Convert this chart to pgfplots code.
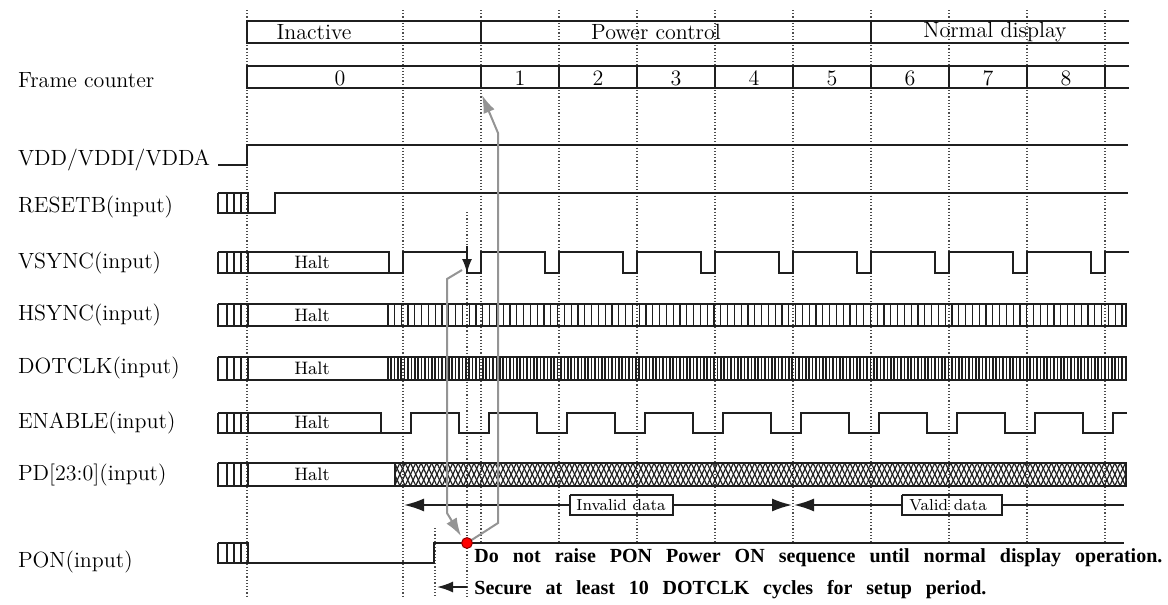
\documentclass[border=0pt]{standalone}
\usepackage{fontspec}
\newfontfamily\tnr{Liberation Serif}
\usepackage{pgfplots}
\pgfplotsset{compat=1.18}
\usetikzlibrary{arrows.meta,patterns.meta}

\definecolor{ln}{gray}{0.12}
\definecolor{ann}{gray}{0.58}
\newcommand\lbl{\fontsize{11}{13}\selectfont}
\newcommand\hlt{\fontsize{9}{11}\selectfont}
\newcommand\sml{\fontsize{8}{10}\selectfont}

\pgfplotsset{sig/.style={ln, line width=0.85pt}}

% hatched "don't care" box in front of a signal, #1 = high y, #2 = low y
\newcommand\hatch[2]{%
  \addplot[sig] coordinates {(218,#1)(248,#1)(248,#2)(218,#2)(218,#1)};
  \addplot[sig] coordinates {(227,#1)(227,#2)(nan,nan)(234,#1)(234,#2)(nan,nan)(241,#1)(241,#2)};}

\begin{document}
\begin{tikzpicture}
\begin{axis}[
    width=584pt, height=302.5pt, scale only axis,
    xmin=0, xmax=1168, ymin=0, ymax=605, y dir=reverse,
    hide axis, clip=false, no markers, unbounded coords=jump,
  ]
  % frame grid
  \addplot[densely dotted, line width=0.6pt, black!70] coordinates {
    (247,10)(247,598)(nan,nan)(403,10)(403,598)(nan,nan)
    (481,10)(481,543)(nan,nan)(559,10)(559,543)(nan,nan)
    (637,10)(637,543)(nan,nan)(715,10)(715,543)(nan,nan)
    (793,10)(793,543)(nan,nan)(871,10)(871,543)(nan,nan)
    (949,10)(949,543)(nan,nan)(1027,10)(1027,543)(nan,nan)
    (1105,10)(1105,543)(nan,nan)
    (467,212)(467,598)(nan,nan)(435,528)(435,598)};

  % state bar
  \addplot[sig, line width=1pt] coordinates {(1129,21)(247,21)(247,43)(1129,43)};
  \addplot[sig, line width=1pt] coordinates {(481,21)(481,43)(nan,nan)(871,21)(871,43)};
  \node[font=\lbl] at (axis cs:314,32) {Inactive};
  \node[font=\lbl] at (axis cs:656,32) {Power control};
  \node[font=\lbl] at (axis cs:995,32) {Normal display};

  % frame counter
  \addplot[sig, line width=1pt] coordinates {(1129,66)(247,66)(247,88)(1129,88)};
  \addplot[sig, line width=1pt] coordinates {
    (481,66)(481,88)(nan,nan)(559,66)(559,88)(nan,nan)(637,66)(637,88)(nan,nan)
    (715,66)(715,88)(nan,nan)(793,66)(793,88)(nan,nan)(871,66)(871,88)(nan,nan)
    (949,66)(949,88)(nan,nan)(1027,66)(1027,88)(nan,nan)(1105,66)(1105,88)};
  \node[font=\lbl] at (axis cs:340,78) {0};
  \node[font=\lbl] at (axis cs:520,78) {1};
  \node[font=\lbl] at (axis cs:598,78) {2};
  \node[font=\lbl] at (axis cs:676,78) {3};
  \node[font=\lbl] at (axis cs:754,78) {4};
  \node[font=\lbl] at (axis cs:832,78) {5};
  \node[font=\lbl] at (axis cs:910,78) {6};
  \node[font=\lbl] at (axis cs:988,78) {7};
  \node[font=\lbl] at (axis cs:1066,78) {8};

  % signal names
  \node[anchor=west, font=\lbl] at (axis cs:11,80) {Frame counter};
  \node[anchor=west, font=\lbl] at (axis cs:11,160) {VDD/VDDI/VDDA};
  \node[anchor=west, font=\lbl] at (axis cs:11,207) {RESETB(input)};
  \node[anchor=west, font=\lbl] at (axis cs:11,263) {VSYNC(input)};
  \node[anchor=west, font=\lbl] at (axis cs:11,315) {HSYNC(input)};
  \node[anchor=west, font=\lbl] at (axis cs:11,368) {DOTCLK(input)};
  \node[anchor=west, font=\lbl] at (axis cs:11,423) {ENABLE(input)};
  \node[anchor=west, font=\lbl] at (axis cs:11,475) {PD[23:0](input)};
  \node[anchor=west, font=\lbl] at (axis cs:11,562) {PON(input)};

  % VDD
  \addplot[sig] coordinates {(218,165)(247,165)(247,145)(1128,145)};

  % RESETB
  \hatch{193}{213}
  \addplot[sig] coordinates {(248,213)(275,213)(275,193)(1128,193)};

  % VSYNC
  \hatch{252}{273}
  \addplot[sig] coordinates {(248,252)(389,252)(389,273)};
  \addplot[sig] coordinates {(248,273)(403,273)(403,252)
    (467,252)(467,273)(481,273)(481,252)(545,252)(545,273)(559,273)(559,252)
    (623,252)(623,273)(637,273)(637,252)(701,252)(701,273)(715,273)(715,252)
    (779,252)(779,273)(793,273)(793,252)(857,252)(857,273)(871,273)(871,252)
    (935,252)(935,273)(949,273)(949,252)(1013,252)(1013,273)(1027,273)(1027,252)
    (1091,252)(1091,273)(1105,273)(1105,252)(1129,252)};
  \node[font=\hlt] at (axis cs:312,262) {Halt};

  % HSYNC
  \hatch{304}{326}
  \addplot[sig, pattern={Lines[angle=90,distance=3.4pt,line width=0.55pt]}, pattern color=ln]
    coordinates {(388,304)(1126,304)(1126,326)(388,326)(388,304)};
  \addplot[sig] coordinates {(388,304)(248,304)(248,326)(388,326)};
  \node[font=\hlt] at (axis cs:312,315) {Halt};

  % DOTCLK
  \hatch{357}{380}
  \addplot[sig, pattern={Lines[angle=90,distance=1.7pt,line width=0.75pt]}, pattern color=ln]
    coordinates {(388,357)(1126,357)(1126,380)(388,380)(388,357)};
  \addplot[sig] coordinates {(388,357)(248,357)(248,380)(388,380)};
  \node[font=\hlt] at (axis cs:312,368) {Halt};

  % ENABLE
  \hatch{413}{433}
  \addplot[sig] coordinates {(248,413)(381,413)(381,433)};
  \addplot[sig] coordinates {(248,433)(411,433)(411,413)
    (459,413)(459,433)(489,433)(489,413)(537,413)(537,433)(567,433)(567,413)
    (615,413)(615,433)(645,433)(645,413)(693,413)(693,433)(723,433)(723,413)
    (771,413)(771,433)(801,433)(801,413)(849,413)(849,433)(879,433)(879,413)
    (927,413)(927,433)(957,433)(957,413)(1005,413)(1005,433)(1035,433)(1035,413)
    (1083,413)(1083,433)(1113,433)(1113,413)(1127,413)};
  \node[font=\hlt] at (axis cs:312,422) {Halt};

  % PD[23:0]
  \hatch{463}{486}
  \addplot[sig, pattern={Lines[angle=65,distance=2.4pt,line width=0.6pt]}, pattern color=ln]
    coordinates {(395,463)(1126,463)(1126,486)(395,486)(395,463)};
  \addplot[draw=none, pattern={Lines[angle=115,distance=2.4pt,line width=0.6pt]}, pattern color=ln]
    coordinates {(395,463)(1126,463)(1126,486)(395,486)(395,463)};
  \addplot[sig] coordinates {(395,463)(248,463)(248,486)(395,486)};
  \node[font=\hlt] at (axis cs:312,474) {Halt};

  % data validity
  \addplot[sig, {Latex[length=10pt,width=6.5pt]}-] coordinates {(404,505)(570,505)};
  \addplot[sig, line width=0.6pt] coordinates {(570,495)(673,495)(673,515)(570,515)(570,495)};
  \addplot[sig, -{Latex[length=10pt,width=6.5pt]}] coordinates {(673,505)(792,505)};
  \addplot[sig, {Latex[length=10pt,width=6.5pt]}-] coordinates {(794,505)(902,505)};
  \addplot[sig, line width=0.6pt] coordinates {(902,495)(1002,495)(1002,515)(902,515)(902,495)};
  \addplot[sig] coordinates {(1002,505)(1124,505)};
  \node[anchor=west, font=\sml, inner sep=1pt] at (axis cs:574,505) {Invalid data};
  \node[anchor=west, font=\sml, inner sep=1pt] at (axis cs:907,505) {Valid data};

  % PON
  \hatch{543}{563}
  \addplot[sig] coordinates {(248,563)(434,563)(434,543)(1124,543)};

  % VSYNC marker and guide lines
  \addplot[sig, -{Latex[length=7pt,width=5pt]}] coordinates {(467,246)(467,273)};
  \addplot[ann, line width=1pt, -{Latex[length=9pt,width=6pt]}]
    coordinates {(462,270)(447,279)(447,513)(461,536)};
  \addplot[ann, line width=1pt, -{Latex[length=9pt,width=6pt]}]
    coordinates {(467,543)(498,523)(498,133)(482,95)};
  \addplot[only marks, mark=*, mark size=2.7pt,
    mark options={fill=red, draw=red!55!black, line width=0.5pt}] coordinates {(467,543)};

  % setup period
  \addplot[sig, -{Latex[length=8pt,width=5.5pt]}] coordinates {(467,587)(437,587)};

  \node[anchor=base west, inner sep=0pt] at (axis cs:474,562)
    {\tnr\bfseries\fontsize{10}{12}\selectfont\makebox[344pt][s]{Do not raise PON Power ON sequence until normal display operation.}};
  \node[anchor=base west, inner sep=0pt] at (axis cs:474,594)
    {\tnr\bfseries\fontsize{10}{12}\selectfont\makebox[256pt][s]{Secure at least 10 DOTCLK cycles for setup period.}};
\end{axis}
\pgfresetboundingbox
\path (current axis.south west) rectangle (current axis.north east);
\end{tikzpicture}
\end{document}
